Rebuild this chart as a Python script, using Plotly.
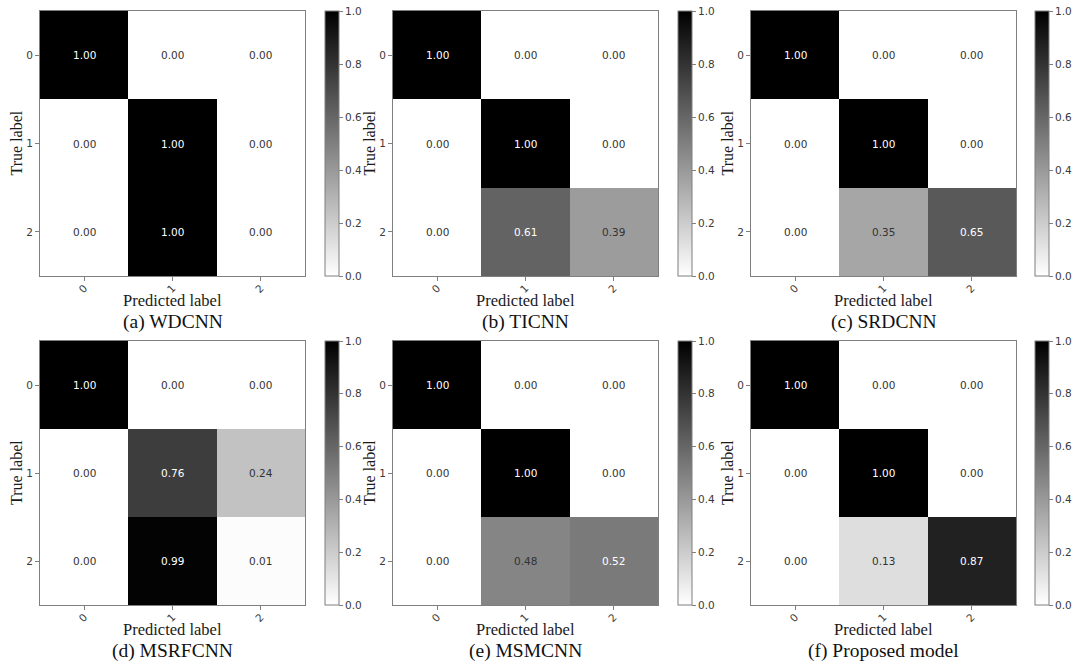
import plotly.graph_objects as go
from plotly.subplots import make_subplots

# Class labels and normalised confusion matrices (rows = true, cols = predicted)
class_labels = ["0", "1", "2"]
cbar_ticks = [0.0, 0.2, 0.4, 0.6, 0.8, 1.0]

wdcnn = [[1.00, 0.00, 0.00], [0.00, 1.00, 0.00], [0.00, 1.00, 0.00]]
ticnn = [[1.00, 0.00, 0.00], [0.00, 1.00, 0.00], [0.00, 0.61, 0.39]]
srdcnn = [[1.00, 0.00, 0.00], [0.00, 1.00, 0.00], [0.00, 0.35, 0.65]]
msrfcnn = [[1.00, 0.00, 0.00], [0.00, 0.76, 0.24], [0.00, 0.99, 0.01]]
msmcnn = [[1.00, 0.00, 0.00], [0.00, 1.00, 0.00], [0.00, 0.48, 0.52]]
proposed = [[1.00, 0.00, 0.00], [0.00, 1.00, 0.00], [0.00, 0.13, 0.87]]

captions = ["(a) WDCNN", "(b) TICNN", "(c) SRDCNN",
            "(d) MSRFCNN", "(e) MSMCNN", "(f) Proposed model"]
matrices = [wdcnn, ticnn, srdcnn, msrfcnn, msmcnn, proposed]

# linear white -> black
GREY_SCALE = [[0.0, "#ffffff"], [1.0, "#000000"]]

W, H = 1080, 670
# pixel layout of each panel (left, right) and rows (top, bottom)
col_px = [(40, 305), (393, 658), (751, 1016)]
cbar_px = [325, 678, 1035]
row_px = [(11, 276), (341, 605)]

SANS = "DejaVu Sans"
SERIF = "Liberation Serif"
LINE = "#7f7f7f"
TICK_FONT = dict(family=SANS, size=10.5, color="#3a3a3a")

fig = make_subplots(rows=2, cols=3)

for i, z in enumerate(matrices):
    r, c = i // 3, i % 3
    x0, x1 = col_px[c]
    top, bottom = row_px[r]
    xd = [x0 / W, x1 / W]
    yd = [1 - bottom / H, 1 - top / H]
    n = i + 1
    cax = "coloraxis" if n == 1 else f"coloraxis{n}"
    fig.add_trace(
        go.Heatmap(z=z, x=[0, 1, 2], y=[0, 1, 2], coloraxis=cax,
                   hoverinfo="skip"),
        row=r + 1, col=c + 1,
    )
    fig.update_layout({cax: dict(
        colorscale=GREY_SCALE, cmin=0, cmax=1,
        colorbar=dict(
            x=cbar_px[c] / W, xanchor="left", xpad=0,
            y=yd[1], yanchor="top", ypad=0,
            len=bottom - top, lenmode="pixels",
            thickness=14, thicknessmode="pixels",
            outlinecolor=LINE, outlinewidth=1,
            tickvals=cbar_ticks, ticktext=[f"{v:.1f}" for v in cbar_ticks],
            ticks="outside", ticklen=4, tickcolor=LINE,
            tickfont=TICK_FONT,
        ),
    )})

    fig.update_xaxes(
        domain=xd, range=[-0.5, 2.5],
        tickvals=[0, 1, 2], ticktext=class_labels, tickangle=-45,
        ticks="outside", ticklen=4, tickcolor=LINE, tickfont=TICK_FONT,
        ticklabelstandoff=-3,
        showline=True, mirror=True, linecolor=LINE, linewidth=1,
        showgrid=False, zeroline=False,
        row=r + 1, col=c + 1,
    )
    fig.update_yaxes(
        domain=yd, range=[2.5, -0.5],
        tickvals=[0, 1, 2], ticktext=class_labels,
        ticks="outside", ticklen=4, tickcolor=LINE, tickfont=TICK_FONT,
        showline=True, mirror=True, linecolor=LINE, linewidth=1,
        showgrid=False, zeroline=False,
        row=r + 1, col=c + 1,
    )

    xref = "x" if n == 1 else f"x{n}"
    yref = "y" if n == 1 else f"y{n}"
    # cell values, white on dark cells as matplotlib does
    for ti, row_vals in enumerate(z):
        for pj, v in enumerate(row_vals):
            fig.add_annotation(
                x=pj, y=ti, xref=xref, yref=yref, text=f"{v:.2f}",
                showarrow=False,
                font=dict(family=SANS, size=10.5,
                          color="#ffffff" if v > 0.5 else "#333333"),
            )

    cx = (x0 + x1) / 2 / W
    # axis titles and caption
    fig.add_annotation(
        x=(x0 - 24) / W, y=(yd[0] + yd[1]) / 2, xref="paper", yref="paper",
        text="True label", textangle=-90, showarrow=False,
        xanchor="center", yanchor="middle",
        font=dict(family=SERIF, size=16, color="#1a1a1a"),
    )
    fig.add_annotation(
        x=cx, y=1 - (bottom + 24) / H, xref="paper", yref="paper",
        text="Predicted label", showarrow=False,
        xanchor="center", yanchor="middle",
        font=dict(family=SERIF, size=16.5, color="#1a1a1a"),
    )
    fig.add_annotation(
        x=cx, y=1 - (bottom + 46) / H, xref="paper", yref="paper",
        text=captions[i], showarrow=False,
        xanchor="center", yanchor="middle",
        font=dict(family=SERIF, size=19.5, color="#111111"),
    )

fig.update_layout(
    width=W, height=H,
    margin=dict(l=0, r=0, t=0, b=0),
    paper_bgcolor="white", plot_bgcolor="white",
    showlegend=False,
)

# drop the default page margin so the figure sits at the window corner
fig.write_html(
    "out.html",
    config={"displayModeBar": False},
    post_script="document.body.style.margin='0';",
)
